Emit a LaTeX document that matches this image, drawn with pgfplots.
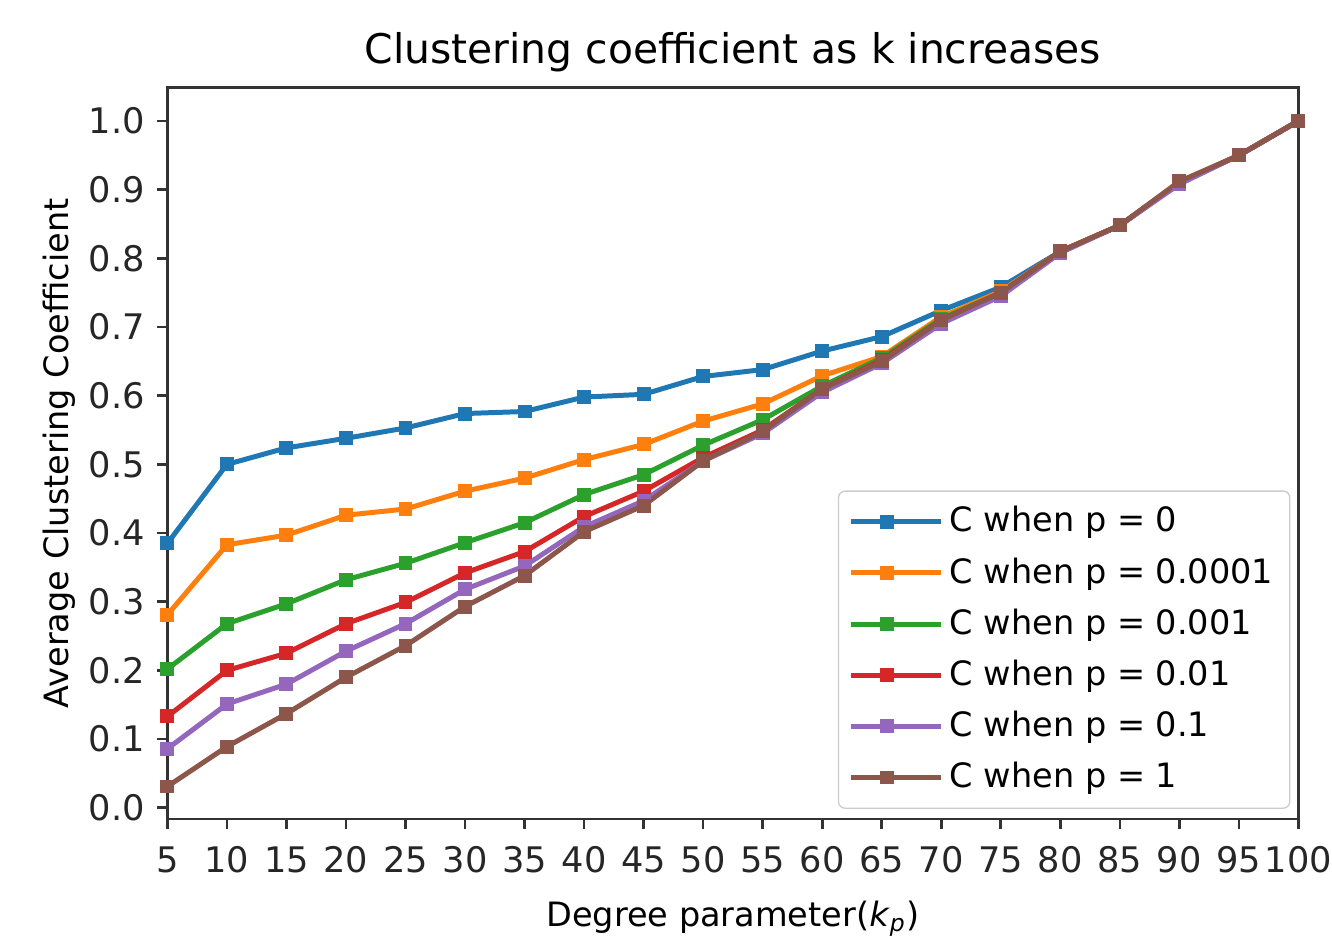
\documentclass[border=0pt]{standalone}
\usepackage{fontspec}
\setmainfont{DejaVu Sans}
\usepackage{pgfplots}
\pgfplotsset{compat=1.18}
\usetikzlibrary{calc}
\definecolor{tabblue}{HTML}{1F77B4}
\definecolor{taborange}{HTML}{FF7F0E}
\definecolor{tabgreen}{HTML}{2CA02C}
\definecolor{tabred}{HTML}{D62728}
\definecolor{tabpurple}{HTML}{9467BD}
\definecolor{tabbrown}{HTML}{8C564B}
\definecolor{axgray}{HTML}{333333}
\begin{document}
\fontsize{10.8}{13}\selectfont
\begin{tikzpicture}
\begin{axis}[
  name=ax,
  scale only axis,
  width=340.5pt, height=220.2pt,
  xmin=5, xmax=100,
  ymin=-0.0165, ymax=1.0485,
  xtick={5,10,...,100},
  ytick={0,0.1,...,1.0},
  yticklabel style={/pgf/number format/fixed,/pgf/number format/fixed zerofill,/pgf/number format/precision=1},
  /pgf/number format/assume math mode=true,
  tick align=outside,
  xtick pos=bottom, ytick pos=left,
  major tick length=3pt,
  tick style={axgray, line width=0.8pt},
  axis line style={axgray, line width=0.8pt},
  ticklabel style={font=\fontsize{10.6}{13}\selectfont, text=black!85},
  xticklabel style={inner xsep=0pt, yshift=-1.5pt},
  title={Clustering coefficient as k increases},
  title style={font=\fontsize{12.3}{14}\selectfont, yshift=-5pt},
  xlabel={Degree parameter(\textit{k}\textsubscript{\textit{p}})},
  ylabel={Average Clustering Coefficient},
  label style={font=\fontsize{10.1}{12}\selectfont},
  xlabel style={yshift=-1pt},
  ylabel style={yshift=-3.5pt},
  every axis plot/.append style={line width=1.5pt, mark=square*, mark size=1.35pt, mark options={solid}},
  legend style={at={(0.993,0.014)}, anchor=south east, draw=black!20, rounded corners=2pt,
    font=\fontsize{10.1}{12}\selectfont, row sep=2.1pt, inner ysep=2.6pt, inner xsep=3pt},
  legend cell align=left,
  legend image code/.code={\draw[#1] (0pt,0pt) -- (21.6pt,0pt); \path[#1] plot coordinates {(10.8pt,0pt)}; \path (0pt,0pt) -- (27pt,0pt);},
]
\addplot[tabblue] coordinates {(5,0.385)(10,0.500)(15,0.524)(20,0.538)(25,0.553)(30,0.574)(35,0.577)(40,0.598)(45,0.602)(50,0.628)(55,0.638)(60,0.665)(65,0.686)(70,0.724)(75,0.758)(80,0.810)(85,0.848)(90,0.910)(95,0.950)(100,1.000)};
\addlegendentry{C when p = 0}
\addplot[taborange] coordinates {(5,0.281)(10,0.383)(15,0.397)(20,0.426)(25,0.435)(30,0.461)(35,0.480)(40,0.507)(45,0.529)(50,0.563)(55,0.588)(60,0.629)(65,0.657)(70,0.715)(75,0.752)(80,0.810)(85,0.848)(90,0.910)(95,0.950)(100,1.000)};
\addlegendentry{C when p = 0.0001}
\addplot[tabgreen] coordinates {(5,0.202)(10,0.268)(15,0.297)(20,0.332)(25,0.356)(30,0.386)(35,0.415)(40,0.456)(45,0.485)(50,0.528)(55,0.565)(60,0.614)(65,0.655)(70,0.712)(75,0.750)(80,0.810)(85,0.848)(90,0.910)(95,0.950)(100,1.000)};
\addlegendentry{C when p = 0.001}
\addplot[tabred] coordinates {(5,0.133)(10,0.200)(15,0.225)(20,0.268)(25,0.299)(30,0.342)(35,0.373)(40,0.424)(45,0.461)(50,0.510)(55,0.550)(60,0.610)(65,0.652)(70,0.710)(75,0.750)(80,0.810)(85,0.848)(90,0.910)(95,0.950)(100,1.000)};
\addlegendentry{C when p = 0.01}
\addplot[tabpurple] coordinates {(5,0.086)(10,0.151)(15,0.180)(20,0.228)(25,0.268)(30,0.318)(35,0.352)(40,0.409)(45,0.447)(50,0.505)(55,0.545)(60,0.605)(65,0.647)(70,0.705)(75,0.745)(80,0.808)(85,0.848)(90,0.908)(95,0.950)(100,1.000)};
\addlegendentry{C when p = 0.1}
\addplot[tabbrown] coordinates {(5,0.031)(10,0.089)(15,0.137)(20,0.190)(25,0.236)(30,0.293)(35,0.338)(40,0.402)(45,0.440)(50,0.505)(55,0.548)(60,0.610)(65,0.650)(70,0.710)(75,0.750)(80,0.810)(85,0.848)(90,0.912)(95,0.950)(100,1.000)};
\addlegendentry{C when p = 1}
\end{axis}
\path ($(ax.south west)+(-50.4pt,-34.5pt)$) rectangle ($(ax.north east)+(8.7pt,26.4pt)$);
\end{tikzpicture}
\end{document}
